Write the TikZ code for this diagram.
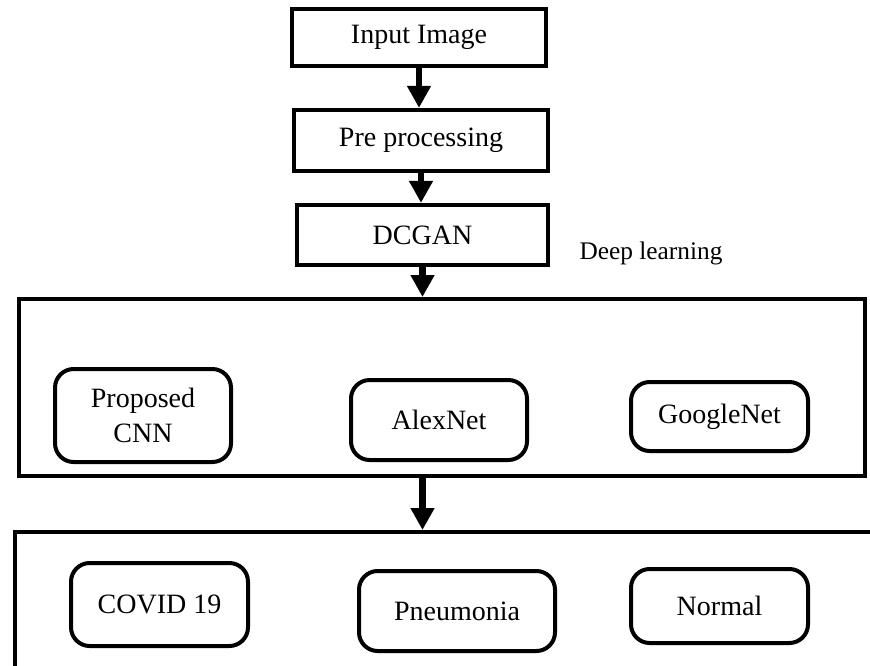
\documentclass[tikz,border=0pt]{standalone}
\usepackage{fontspec}
\setmainfont{Liberation Serif}
\usetikzlibrary{arrows.meta}
\tikzset{
	stepbox/.style={draw,line width=3.2pt,align=center,inner sep=0pt},
	roundbox/.style={draw,line width=3pt,rounded corners=14pt,align=center,inner sep=0pt},
	outerbox/.style={draw,line width=3pt,inner sep=0pt},
	flowarrow/.style={line width=5.2pt,-{Triangle[width=17pt,length=16.5pt]}}
}
\begin{document}
\begin{tikzpicture}[x=0.75pt,y=-0.75pt]
			\newcommand{\myfontbox}{%
				\fontsize{21}{26}\selectfont%
			}\newcommand{\myfontlabel}{%
				\fontsize{19}{24}\selectfont%
			}%Page frame
			\useasboundingbox (0,0) rectangle (870,665);
			\clip (0,0) rectangle (870,665);
			%Centres of the top chain
			\coordinate (cInput) at (419,37.5);
			\coordinate (cPre) at (421,140.5);
			\coordinate (cGan) at (422.5,235);
			\node [stepbox,minimum width=190.5pt,minimum height=42.75pt,font=\myfontbox] (input) at (cInput) {Input Image};
			\node [stepbox,minimum width=190.5pt,minimum height=45.75pt,font=\myfontbox] (pre) at (cPre) {Pre processing};
			\node [stepbox,minimum width=188.25pt,minimum height=45pt,font=\myfontbox] (gan) at (cGan) {DCGAN};
			%Label beside the chain
			\node [font=\myfontlabel] (deepLabel) at (651,253) {Deep learning};
			%Deep learning frame
			\coordinate (cDeep) at (442,387.5);
			\node [outerbox,minimum width=634.5pt,minimum height=132.75pt] (deep) at (cDeep) {};
			%Networks
			\coordinate (cCnn) at (143,415.5);
			\coordinate (cAlex) at (439,420);
			\coordinate (cGoogle) at (719.5,416.5);
			\node [roundbox,minimum width=132pt,minimum height=69.75pt,font=\myfontbox] (cnn) at (cCnn) {Proposed\\CNN};
			\node [roundbox,minimum width=132pt,minimum height=60pt,font=\myfontbox] (alex) at (cAlex) {AlexNet};
			\node [roundbox,minimum width=132.75pt,minimum height=51.75pt,font=\myfontbox] (google) at (cGoogle) {GoogleNet};
			%Result frame, running off the page
			\coordinate (cResult) at (465,632);
			\node [outerbox,minimum width=675pt,minimum height=150pt] (result) at (cResult) {};
			%Classes
			\coordinate (cCovid) at (159.5,604.5);
			\coordinate (cPneu) at (457,611);
			\coordinate (cNormal) at (719.5,606);
			\node [roundbox,minimum width=132.75pt,minimum height=62.25pt,font=\myfontbox] (covid) at (cCovid) {COVID 19};
			\node [roundbox,minimum width=147pt,minimum height=60pt,font=\myfontbox] (pneu) at (cPneu) {Pneumonia};
			\node [roundbox,minimum width=132.75pt,minimum height=55.5pt,font=\myfontbox] (normal) at (cNormal) {Normal};
			%Arrows
			\draw [flowarrow] (input.south) -- (input.south |- pre.north);
			\draw [flowarrow] (pre.south) -- (pre.south |- gan.north);
			\draw [flowarrow] (gan.south) -- (gan.south |- deep.north);
			\draw [flowarrow] (gan.south |- deep.south) -- (gan.south |- result.north);
\end{tikzpicture}
\end{document}
